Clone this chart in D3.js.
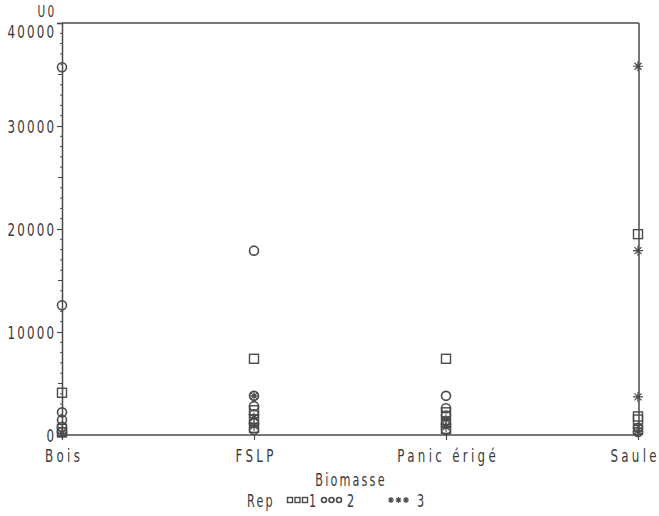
<!DOCTYPE html>
<html>
<head>
<meta charset="utf-8">
<script src="https://cdn.jsdelivr.net/npm/d3@7/dist/d3.min.js"></script>
<style>
  body { margin: 0; background: #fff; }
  svg text { font-family: "DejaVu Sans", sans-serif; fill: #3a3a3a; font-size: 18px; letter-spacing: 3.3px; }
</style>
</head>
<body>
<svg id="chart" width="659" height="516"></svg>
<script>
// Biomass categories on the x axis
const categories = ["Bois", "FSLP", "Panic érigé", "Saule"];
// Y axis major ticks (U0)
const yTicks = [0, 10000, 20000, 30000, 40000];
// Values per replicate, one list per category (same order as categories)
const rep1 = [
  [4100, 600, 250],
  [7400, 2400, 1500, 700],
  [7400, 2200, 1200, 600],
  [19500, 1800, 1500, 500]
];
const rep2 = [
  [35700, 12600, 2200, 1450, 800, 300],
  [17900, 3800, 2800, 2000, 1200, 500],
  [3800, 2600, 1900, 1100, 500],
  [700, 300]
];
const rep3 = [
  [150],
  [3800, 1700, 900],
  [1500, 800],
  [35800, 17900, 3700, 400]
];
const reps = [
  { name: "1", shape: "square", values: rep1 },
  { name: "2", shape: "circle", values: rep2 },
  { name: "3", shape: "star", values: rep3 }
];

const svg = d3.select("#chart");
const ink = "#4a4a4a";
const L = 62, R = 639, T = 23, B = 435;
const SX = 0.66;   // horizontal squeeze for the narrow lettering
const LS_X = 5.0;  // wider letter spacing of the category labels

// squeeze a text horizontally around its own anchor point
function narrow(sel) {
  sel.each(function () {
    const t = d3.select(this);
    const ax = +t.attr("x") || 0, ay = +t.attr("y") || 0;
    t.attr("transform", `translate(${ax},${ay}) scale(${SX},1) translate(${-ax},${-ay})`);
  });
}

const x = d3.scalePoint().domain(categories).range([L, R - 1]);
const y = d3.scaleLinear().domain([0, 40000]).range([B, T]);

// frame
svg.append("line").attr("x1", L).attr("x2", R).attr("y1", T).attr("y2", T)
  .attr("stroke", "#777").attr("stroke-width", 2);
svg.append("line").attr("x1", R).attr("x2", R).attr("y1", T).attr("y2", B)
  .attr("stroke", ink).attr("stroke-width", 1.5);

// y axis minor ticks
const minor = d3.range(0, 40001, 1000).filter(v => v % 10000 !== 0);
svg.append("g").selectAll("line").data(minor).join("line")
  .attr("x1", d => L - (d % 5000 === 0 ? 4 : 2)).attr("x2", L + 1)
  .attr("y1", d => y(d)).attr("y2", d => y(d))
  .attr("stroke", ink).attr("stroke-width", 1);

// y axis
const yAxis = svg.append("g").attr("transform", `translate(${L},0)`)
  .call(d3.axisLeft(y).tickValues(yTicks).tickSize(5).tickPadding(3).tickFormat(d3.format("d")));
yAxis.select(".domain").attr("stroke", ink).attr("stroke-width", 1.5);
yAxis.selectAll(".tick line").attr("stroke", ink).attr("stroke-width", 1.2);
yAxis.selectAll(".tick text")
  .attr("dy", d => d === 40000 ? "0.8em" : "0.35em")
  .attr("x", -8 + 3.3 * SX);
narrow(yAxis.selectAll(".tick text"));

// x axis
const xAxis = svg.append("g").attr("transform", `translate(0,${B})`)
  .call(d3.axisBottom(x).tickSize(5).tickPadding(6));
xAxis.select(".domain").attr("d", `M${L},0H${R}`).attr("stroke", "#777").attr("stroke-width", 2);
xAxis.selectAll(".tick line").attr("stroke", ink).attr("stroke-width", 1.2);
xAxis.selectAll(".tick text")
  .style("letter-spacing", LS_X + "px")
  .attr("x", (d, i) => LS_X * SX / 2 - (i === categories.length - 1 ? 5 : 0))
  .attr("y", 27).attr("dy", null);
narrow(xAxis.selectAll(".tick text"));

// axis titles
svg.append("text").attr("x", 47).attr("y", 17).attr("text-anchor", "middle")
  .style("font-size", "16px").text("U0").call(narrow);
svg.append("text").attr("x", 351).attr("y", 486).attr("text-anchor", "middle")
  .style("font-size", "17px").text("Biomasse").call(narrow);

// marker drawing
function drawMarker(g, shape, cx, cy, s) {
  if (shape === "square") {
    g.append("rect").attr("x", cx - s).attr("y", cy - s).attr("width", 2 * s).attr("height", 2 * s)
      .attr("fill", "none").attr("stroke", ink).attr("stroke-width", 1.4);
  } else if (shape === "circle") {
    g.append("circle").attr("cx", cx).attr("cy", cy).attr("r", s)
      .attr("fill", "none").attr("stroke", ink).attr("stroke-width", 1.6);
  } else {
    const p = [];
    for (let k = 0; k < 4; k++) {
      const a = k * Math.PI / 4;
      p.push(`M${cx - s * Math.cos(a)},${cy - s * Math.sin(a)}L${cx + s * Math.cos(a)},${cy + s * Math.sin(a)}`);
    }
    g.append("path").attr("d", p.join("")).attr("stroke", ink).attr("stroke-width", 1.2).attr("fill", "none");
  }
}

// points
const pts = svg.append("g");
reps.forEach(rep => {
  rep.values.forEach((vals, i) => {
    vals.forEach(v => drawMarker(pts, rep.shape, x(categories[i]), y(v), rep.shape === "star" ? 5 : 4.5));
  });
});

// legend: symbol runs start positions and label positions
const lg = svg.append("g");
lg.append("text").attr("x", 247).attr("y", 507).style("font-size", "17px").text("Rep").call(narrow);
const legSym = [290, 324, 391];
const legLab = [309, 347, 417];
reps.forEach((rep, i) => {
  for (let k = 0; k < 3; k++) drawMarker(lg, rep.shape, legSym[i] + k * 7.5, 500, rep.shape === "star" ? 3 : 2.5);
  lg.append("text").attr("x", legLab[i]).attr("y", 507).style("font-size", "17px").text(rep.name).call(narrow);
});
</script>
</body>
</html>
